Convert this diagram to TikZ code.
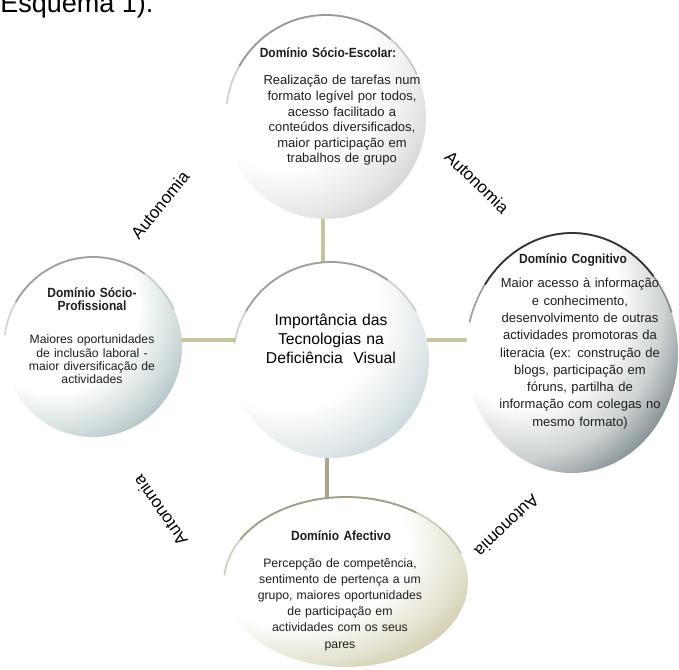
\documentclass[tikz,border=0pt]{standalone}
\usepackage{fontspec}
\setmainfont{Liberation Sans}
\newfontfamily\headfont[FakeStretch=0.9]{Liberation Sans}
\usetikzlibrary{shapes.geometric,backgrounds}

\definecolor{cTop}{HTML}{B8B8B8}
\definecolor{cCen}{HTML}{A6BCC0}
\definecolor{cLeft}{HTML}{88A4A4}
\definecolor{cRight}{HTML}{33474A}
\definecolor{cBot}{HTML}{B8B282}
\definecolor{connC}{HTML}{C9C39A}
\definecolor{connD}{HTML}{A9A68C}
\definecolor{txt}{HTML}{1E1E1E}

\pgfdeclareradialshading{shTop}{\pgfpointorigin}{color(0bp)=(white); color(14bp)=(white); color(21bp)=(cTop!35!white); color(26bp)=(cTop!70!white); color(29bp)=(cTop); color(50bp)=(cTop)}
\pgfdeclareradialshading{shCen}{\pgfpointorigin}{color(0bp)=(white); color(14bp)=(white); color(21bp)=(cCen!35!white); color(26bp)=(cCen!70!white); color(29bp)=(cCen); color(50bp)=(cCen)}
\pgfdeclareradialshading{shLeft}{\pgfpointorigin}{color(0bp)=(white); color(14bp)=(white); color(21bp)=(cLeft!40!white); color(26bp)=(cLeft!75!white); color(29bp)=(cLeft); color(50bp)=(cLeft)}
\pgfdeclareradialshading{shRight}{\pgfpointorigin}{color(0bp)=(white); color(13bp)=(white); color(19.5bp)=(cRight!25!white); color(24.5bp)=(cRight!62!white); color(28bp)=(cRight); color(50bp)=(cRight)}
\pgfdeclareradialshading{shBot}{\pgfpointorigin}{color(0bp)=(white); color(14bp)=(white); color(21bp)=(cBot!40!white); color(26bp)=(cBot!75!white); color(29bp)=(cBot); color(50bp)=(cBot)}

% #1 node, #2 shading, #3 x radius, #4 y radius
\newcommand\myballshade[4]{%
  \begin{scope}
    \clip (#1.center) ellipse[x radius=#3, y radius=#4];
    \shade[shading=#2] ([xshift={-0.45*#3}, yshift={0.45*#4}]#1.center) ellipse[x radius={1.7*#3}, y radius={1.7*#4}];
  \end{scope}}

\begin{document}
\begin{tikzpicture}[x=0.75pt,y=-0.75pt,
  circ/.style={ellipse, inner sep=0pt, draw=none},
  rim/.style={line width=1.3pt, line cap=round},
  conn/.style={line width=2.3pt, draw=connC},
  head/.style={anchor=base, inner sep=0pt, text width=200pt, align=center, text=txt,
    font=\headfont\bfseries\fontsize{10pt}{9.6pt}\selectfont},
  bodytxt/.style={anchor=base, inner sep=0pt, text width=220pt, align=center, text=txt},
  autlabel/.style={inner sep=0pt, text=black, font=\fontsize{12.75pt}{14pt}\selectfont}
]
\useasboundingbox (0,0) rectangle (679,670);
\clip (0,0) rectangle (679,670);

\node[anchor=base west, inner sep=0pt, font=\fontsize{20.25pt}{24pt}\selectfont] (esq) at (0,13) {Esquema 1).};

% circles
\node[circ, minimum width=150pt, minimum height=153pt] (topc) at (326,117) {};
\node[circ, minimum width=147pt, minimum height=147pt] (cent) at (331,360) {};
\node[circ, minimum width=133.5pt, minimum height=135pt] (leftc) at (93,347) {};
\node[circ, minimum width=159pt, minimum height=180pt] (rightc) at (572,353) {};
\node[circ, minimum width=183pt, minimum height=127.5pt] (botc) at (346,582) {};

\myballshade{topc}{shTop}{75pt}{76.5pt}
\myballshade{cent}{shCen}{73.5pt}{73.5pt}
\myballshade{leftc}{shLeft}{66.75pt}{67.5pt}
\myballshade{rightc}{shRight}{79.5pt}{90pt}
\myballshade{botc}{shBot}{91.5pt}{63.75pt}

% rims
\draw[rim, draw=gray!75, opacity=0.5] (topc.center) ++(172:75pt and 76.5pt) arc[start angle=172, end angle=25, x radius=75pt, y radius=76.5pt];
\draw[rim, draw=gray!80] (topc.center) ++(150:75pt and 76.5pt) arc[start angle=150, end angle=50, x radius=75pt, y radius=76.5pt];
\draw[rim, draw=gray!70, opacity=0.5] (cent.center) ++(170:73.5pt and 73.5pt) arc[start angle=170, end angle=30, x radius=73.5pt, y radius=73.5pt];
\draw[rim, draw=gray!75] (cent.center) ++(150:73.5pt and 73.5pt) arc[start angle=150, end angle=55, x radius=73.5pt, y radius=73.5pt];
\draw[rim, draw=gray!70, opacity=0.5] (leftc.center) ++(172:66.75pt and 67.5pt) arc[start angle=172, end angle=25, x radius=66.75pt, y radius=67.5pt];
\draw[rim, draw=gray!75] (leftc.center) ++(150:66.75pt and 67.5pt) arc[start angle=150, end angle=55, x radius=66.75pt, y radius=67.5pt];
\draw[rim, draw=black!75, opacity=0.5] (rightc.center) ++(165:79.5pt and 90pt) arc[start angle=165, end angle=20, x radius=79.5pt, y radius=90pt];
\draw[rim, draw=black!80] (rightc.center) ++(145:79.5pt and 90pt) arc[start angle=145, end angle=40, x radius=79.5pt, y radius=90pt];
\draw[rim, draw=cBot!60!gray, opacity=0.5] (botc.center) ++(175:91.5pt and 63.75pt) arc[start angle=175, end angle=20, x radius=91.5pt, y radius=63.75pt];
\draw[rim, draw=cBot!60!gray] (botc.center) ++(150:91.5pt and 63.75pt) arc[start angle=150, end angle=55, x radius=91.5pt, y radius=63.75pt];

% connectors
\begin{pgfonlayer}{background}
\coordinate (vt) at (323,0);
\coordinate (vb) at (327,0);
\coordinate (hl) at (0,340);
\draw[conn] (vt |- topc.center) -- (vt |- cent.center);
\draw[conn] (leftc |- hl) -- (rightc |- hl);
\draw[conn, draw=connD] (vb |- cent.center) -- (vb |- botc.center);
\end{pgfonlayer}

% texts
\node[head] (th) at (328,58) {Domínio Sócio-Escolar:};
\node[bodytxt, font=\fontsize{9.75pt}{11.7pt}\selectfont] (tb) at (342,85) {Realização de tarefas num\\formato legível por todos,\\acesso facilitado a\\conteúdos diversificados,\\maior participação em\\trabalhos de grupo};

\node[head] (lh) at (92,298) {Domínio Sócio-\\Profissional};
\node[bodytxt, font=\fontsize{9.15pt}{10pt}\selectfont] (lb) at (92,344) {Maiores oportunidades\\de inclusão laboral -\\maior diversificação de\\actividades};

\node[head] (rh) at (573,264) {Domínio Cognitivo};
\node[bodytxt, font=\fontsize{9.75pt}{12.95pt}\selectfont] (rb) at (580,288) {Maior acesso à informação\\e conhecimento,\\desenvolvimento de outras\\actividades promotoras da\\literacia (ex: construção de\\blogs, participação em\\fóruns, partilha de\\informação com colegas no\\mesmo formato)};

\node[head] (bh) at (341,540) {Domínio Afectivo};
\node[bodytxt, font=\fontsize{9.2pt}{12.15pt}\selectfont] (bb) at (340,567) {Percepção de competência,\\sentimento de pertença a um\\grupo, maiores oportunidades\\de participação em\\actividades com os seus\\pares};

\node[bodytxt, text=black, font=\fontsize{11.8pt}{13.9pt}\selectfont] (ct) at (331,326) {Importância das\\Tecnologias na\\Deficiência\ \ Visual};

% Autonomia labels
\node[autlabel, rotate=51] (a1) at (160,205) {Autonomia};
\node[autlabel, rotate=-44] (a2) at (477,182) {Autonomia};
\node[autlabel, rotate=125] (a3) at (160,511) {Autonomia};
\node[autlabel, rotate=-136] (a4) at (507,526) {Autonomia};
\end{tikzpicture}
\end{document}
